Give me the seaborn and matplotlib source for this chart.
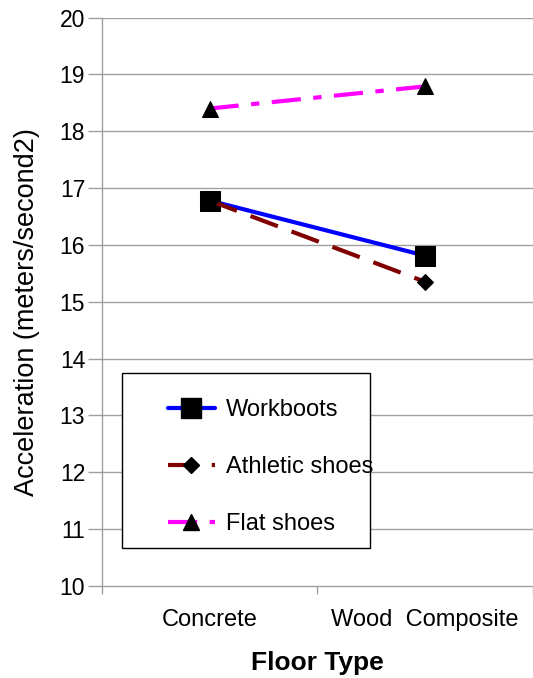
import numpy as np
import pandas as pd
import seaborn as sns
from matplotlib import pyplot as plt
from matplotlib.lines import Line2D
from matplotlib.patches import Rectangle
from matplotlib.ticker import FixedLocator

floors = ["Concrete", "Wood  Composite"]
workboots = [16.78, 15.81]
athletic = [16.78, 15.35]
flat = [18.40, 18.79]

sns.set_theme(style="white")
plt.rcParams["font.family"] = ["Liberation Sans", "DejaVu Sans"]
plt.rcParams["text.color"] = "black"
plt.rcParams["axes.labelcolor"] = "black"
plt.rcParams["xtick.color"] = "black"
plt.rcParams["ytick.color"] = "black"

fig = plt.figure(figsize=(5.33, 6.78), dpi=100)
ax = fig.add_axes([0.191, 0.136, 0.809, 0.838])

grid_c = "#a0a0a0"
for y in range(11, 21):
    ax.axhline(y, color=grid_c, lw=1, zorder=0)

series = [
    ("Workboots", workboots, "#0000ff", "s", 14, None),
    ("Athletic shoes", athletic, "#800000", "D", 8, (7, 3.5)),
    ("Flat shoes", flat, "#ff00ff", "^", 11, (7, 3, 2, 3)),
]

handles = []
for name, vals, col, mk, ms, dash in series:
    df = pd.DataFrame({"floor": floors, "acc": vals})
    sns.lineplot(data=df, x="floor", y="acc", ax=ax, color=col, lw=3,
                 marker=mk, markersize=ms, markerfacecolor="black",
                 markeredgecolor="black", zorder=3)
    ln = ax.lines[-1]
    h = Line2D([], [], color=col, lw=3, marker=mk, markersize=ms,
               markerfacecolor="black", markeredgecolor="black")
    if dash is not None:
        ln.set_dashes(dash)
        h.set_dashes(dash)
    handles.append(h)

ax.set_xlim(-0.5, 1.5)
ax.set_ylim(10, 20)
ax.set_yticks(range(10, 21))
ax.set_xticks([0, 1])
ax.set_xticklabels(floors)
ax.xaxis.set_minor_locator(FixedLocator([-0.5, 0.5, 1.5]))
ax.tick_params(axis="x", which="major", length=0, pad=17, labelsize=17)
ax.tick_params(axis="x", which="minor", length=6, color=grid_c, width=1,
               direction="out", bottom=True)
ax.tick_params(axis="y", length=10, color=grid_c, width=1, direction="out",
               left=True, labelsize=16.5, labelcolor="black", pad=2)

for s in ["top", "right"]:
    ax.spines[s].set_visible(False)
for s in ["left", "bottom"]:
    ax.spines[s].set_color(grid_c)
    ax.spines[s].set_linewidth(1)

ax.set_xlabel("Floor Type", fontsize=19, fontweight="bold", labelpad=14)
ax.set_ylabel("Acceleration (meters/second2)", fontsize=19.5)
ax.yaxis.set_label_coords(-0.144, 0.482)

# legend box frame drawn separately so padding can differ per side
ax.add_patch(Rectangle((0.046, 0.067), 0.575, 0.308, transform=ax.transAxes,
                       facecolor="white", edgecolor="black", lw=1, zorder=4))
leg = ax.legend(handles, [s[0] for s in series], loc="upper left",
                bbox_to_anchor=(0.153, 0.328), fontsize=17, frameon=False,
                handlelength=2.0, labelspacing=1.48, borderpad=0,
                borderaxespad=0, handletextpad=0.45)
leg.set_zorder(5)

fig.savefig("out.png", dpi=100)
